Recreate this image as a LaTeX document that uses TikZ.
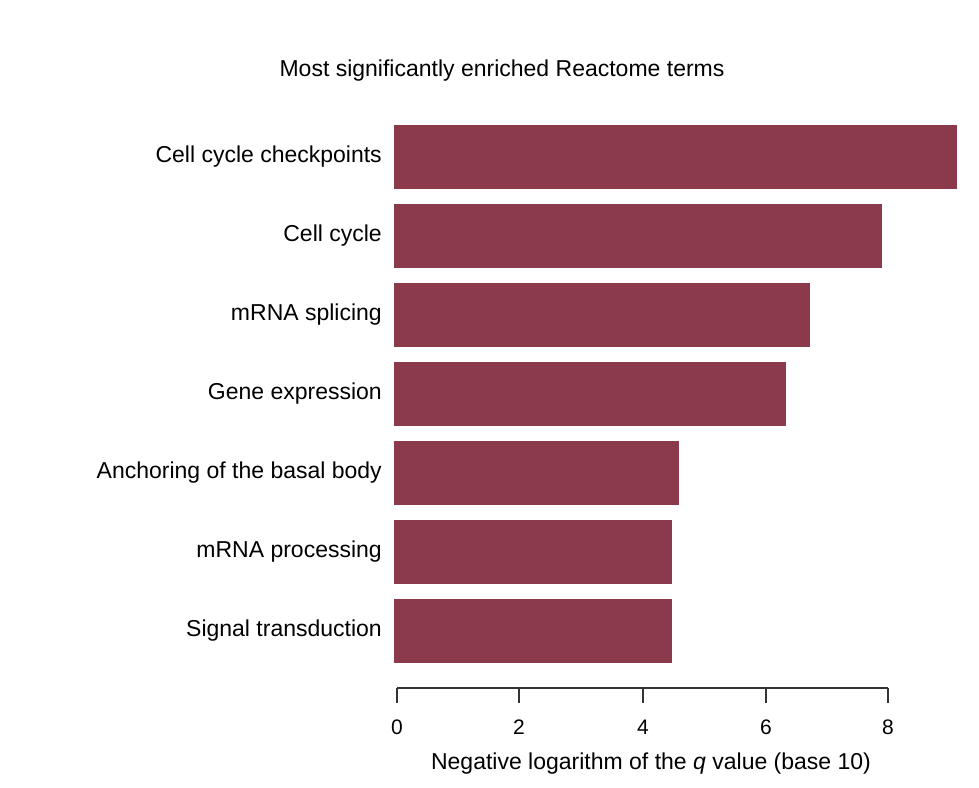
\documentclass[tikz,border=0pt]{standalone}
\usepackage{fontspec}
\setmainfont{Liberation Sans}
\begin{document}
\begin{tikzpicture}[x=1pt,y=-1pt,
  barbox/.style={fill={rgb,255:red,139;green,58;blue,76},draw=none},
  lbl/.style={anchor=east,font=\fontsize{23}{26}\selectfont,inner sep=0pt},
  tk/.style={font=\fontsize{21}{24}\selectfont,inner sep=0pt}]
\useasboundingbox (0,0) rectangle (979,787);
\node[font=\fontsize{23}{26}\selectfont] (title) at (502,71) {Most significantly enriched Reactome terms};
\foreach \i/\t/\r in {1/Cell cycle checkpoints/957,2/Cell cycle/882,3/mRNA splicing/810,4/Gene expression/786,5/Anchoring of the basal body/679,6/mRNA processing/672,7/Signal transduction/672}{
  \pgfmathsetmacro{\yt}{125+79*(\i-1)}
  \fill[barbox] (394,\yt) rectangle (\r,\yt+64);
  \node[lbl] (l\i) at (382,\yt+32) {\t};
}
\coordinate (a0) at (397,688);
\coordinate (a8) at (888,688);
\draw[line width=1.2pt,black!80] (a0) -- (a8);
\foreach \v/\x in {0/397,2/519,4/643,6/766,8/888}{
  \draw[line width=1.2pt,black!80] (\x,688) -- (\x,703);
  \node[tk] (t\v) at (\x,727) {\v};
}
\node[font=\fontsize{23}{26}\selectfont] (xl) at (651,764) {Negative logarithm of the \textit{q} value (base 10)};
\end{tikzpicture}
\end{document}
